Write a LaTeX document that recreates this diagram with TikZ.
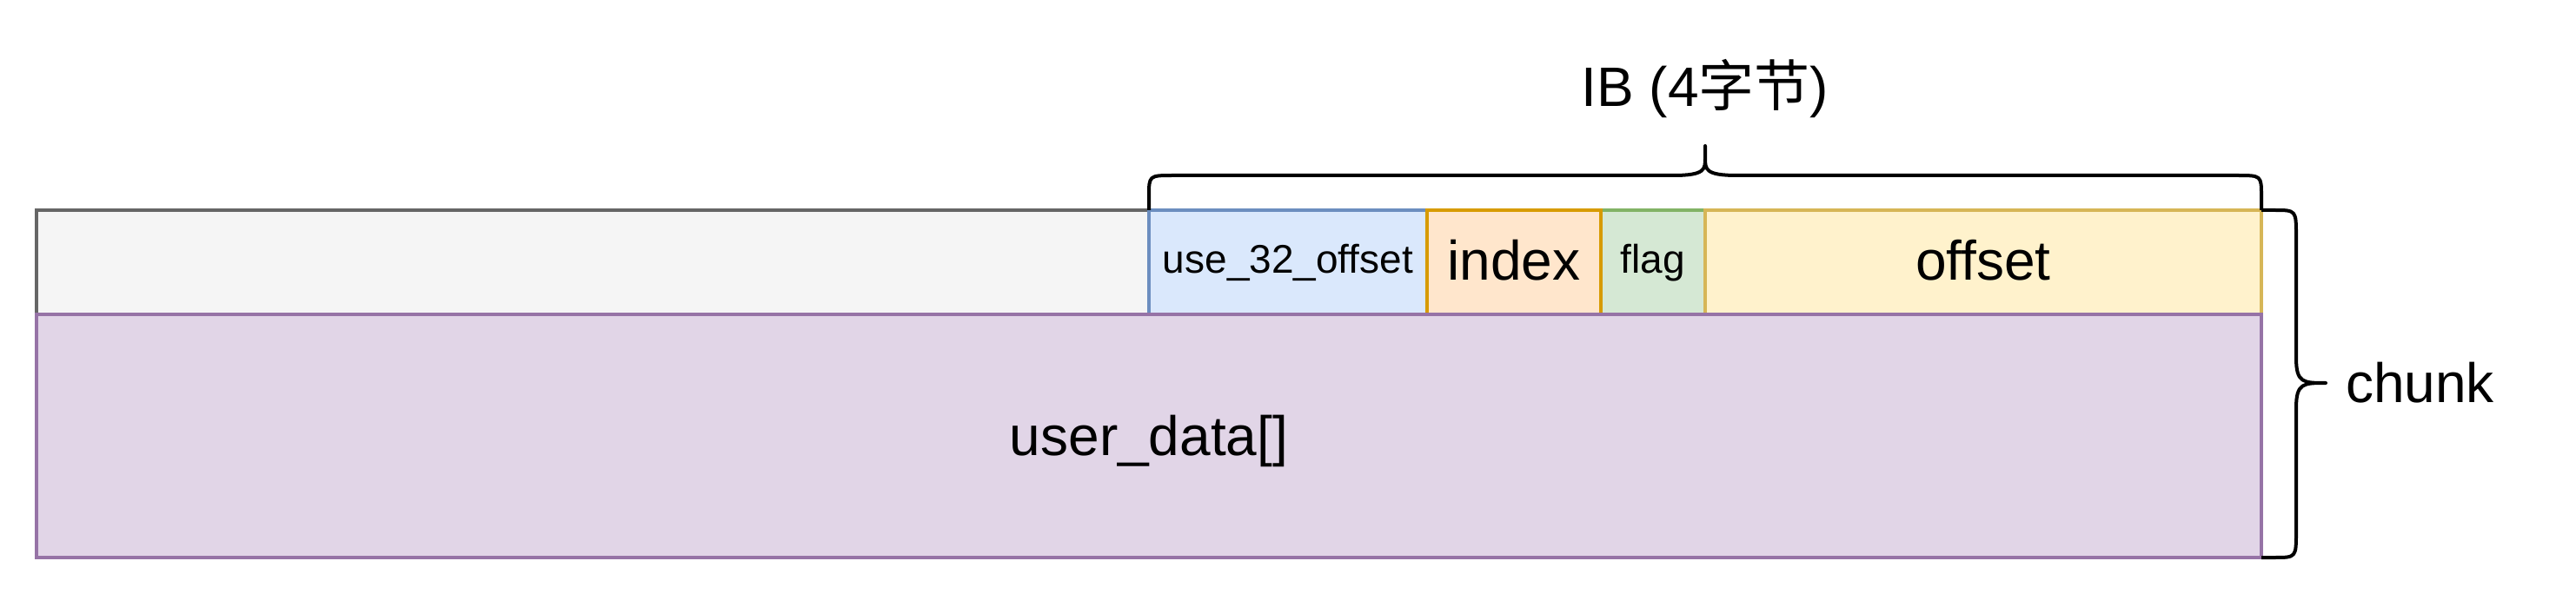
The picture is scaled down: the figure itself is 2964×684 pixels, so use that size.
\documentclass[tikz,border=0pt]{standalone}
\usepackage{fontspec}
\setmainfont{Liberation Sans}
\newfontfamily\cjk{Noto Sans CJK SC}
\definecolor{grayfill}{HTML}{F5F5F5}
\definecolor{graydraw}{HTML}{666666}
\definecolor{bluefill}{HTML}{DAE8FC}
\definecolor{bluedraw}{HTML}{6C8EBF}
\definecolor{orangefill}{HTML}{FFE6CC}
\definecolor{orangedraw}{HTML}{D79B00}
\definecolor{greenfill}{HTML}{D5E8D4}
\definecolor{greendraw}{HTML}{82B366}
\definecolor{yellowfill}{HTML}{FFF2CC}
\definecolor{yellowdraw}{HTML}{D6B656}
\definecolor{purplefill}{HTML}{E1D5E7}
\definecolor{purpledraw}{HTML}{9673A6}
\tikzset{
  cell/.style={draw, line width=3.5pt, inner sep=0pt, outer sep=0pt, anchor=north west},
  big/.style={font=\fontsize{64}{76}\selectfont},
  small/.style={font=\fontsize{46}{55}\selectfont},
  brc/.style={draw=black, line width=4pt, line join=round},
  lbl/.style={inner sep=0pt, anchor=base}
}
\begin{document}
\begin{tikzpicture}[x=1pt,y=-1pt]
\useasboundingbox (0,0) rectangle (2964,684);
% cells
\node[cell, fill=grayfill, draw=graydraw, minimum width=1280pt, minimum height=120pt] (gry) at (42,242) {};
\node[cell, fill=bluefill, draw=bluedraw, minimum width=320pt, minimum height=120pt] (u32) at (1322,242) {};
\node[cell, fill=greenfill, draw=greendraw, minimum width=120pt, minimum height=120pt] (flg) at (1842,242) {};
\node[cell, fill=orangefill, draw=orangedraw, minimum width=200pt, minimum height=120pt] (idx) at (1642,242) {};
\node[cell, fill=yellowfill, draw=yellowdraw, minimum width=640pt, minimum height=120pt] (off) at (1962,242) {};
\node[cell, fill=purplefill, draw=purpledraw, minimum width=2560pt, minimum height=280pt] (ud) at (42,362) {};
% labels
\node[lbl, small] (t32) at (1482,315) {use\_32\_offset};
\node[lbl, big] (tidx) at (1742,323) {index};
\node[lbl, small] (tflg) at (1902,315) {flag};
\node[lbl, big] (toff) at (2282,323) {offset};
\node[lbl, big] (tud) at (1322,524) {user\_data[]};
\node[lbl, big] (tib) at (1962,123) {IB (4{\cjk 字节})};
\node[inner sep=0pt, anchor=base west, big] (tchunk) at (2699,464) {chunk};
% braces
\coordinate (ibtip) at (1962,168);
\coordinate (chtip) at (2676,441);
\draw[brc] (u32.north west) -- (1322,226) .. controls (1322,202) .. (1350,202)
  -- (1925,202) .. controls (1962,202) and (1962,195) .. (1962,182) -- (ibtip)
  -- (1962,182) .. controls (1962,195) and (1962,202) .. (1999,202)
  -- (2574,202) .. controls (2602,202) .. (2602,226) -- (off.north east);
\draw[brc] (off.north east) -- (2617,242) .. controls (2642,242) .. (2642,272)
  -- (2642,412) .. controls (2642,441) and (2650,441) .. (chtip)
  .. controls (2650,441) and (2642,441) .. (2642,470)
  -- (2642,612) .. controls (2642,642) .. (2617,642) -- (ud.south east);
\end{tikzpicture}
\end{document}
